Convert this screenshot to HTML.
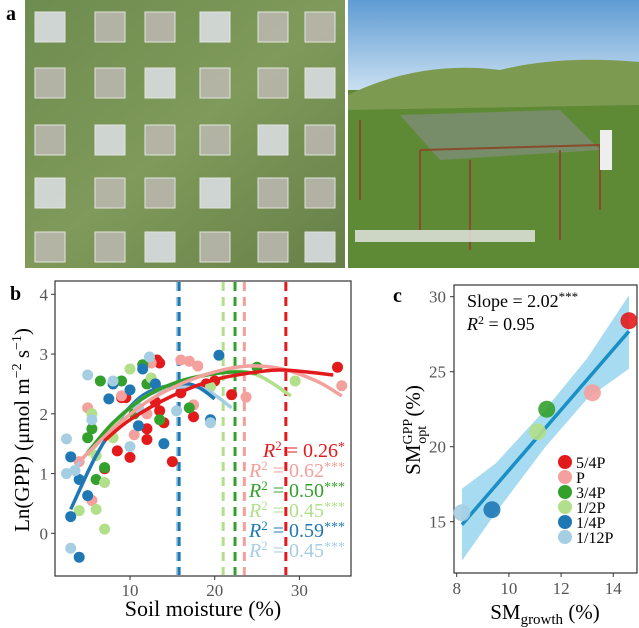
<!DOCTYPE html>
<html><head><meta charset="utf-8"><style>
body{margin:0;width:639px;height:628px;background:#fff;overflow:hidden;font-family:"Liberation Serif",serif}
svg{position:absolute;left:0;top:0;font-family:"Liberation Serif",serif}
svg text{font-family:"Liberation Serif",serif}
</style></head><body>
<svg width="639" height="628" id="fig" font-family="Liberation Serif, serif">
<defs>
<linearGradient id="grass" x1="0" y1="0" x2="1" y2="1"><stop offset="0" stop-color="#6e8c4f"/><stop offset="0.5" stop-color="#7f9a5a"/><stop offset="1" stop-color="#667f48"/></linearGradient>
<linearGradient id="sky" x1="0" y1="0" x2="0" y2="1"><stop offset="0" stop-color="#5f9bd3"/><stop offset="1" stop-color="#c9dff0"/></linearGradient>
<linearGradient id="field" x1="0" y1="0" x2="0" y2="1"><stop offset="0" stop-color="#6c8f3c"/><stop offset="1" stop-color="#4f7a2c"/></linearGradient>
</defs>
<g>
<text x="6" y="20" font-size="20" font-weight="bold">a</text>
<rect x="25" y="0" width="320" height="268" fill="url(#grass)"/>
<g id="plots"></g>
<rect x="348" y="0" width="291" height="268" fill="url(#field)"/>
<rect x="348" y="0" width="291" height="90" fill="url(#sky)"/>
<path d="M348 95 Q420 60 500 70 Q560 55 639 62 L639 120 L348 120Z" fill="#7c9a50"/>
<path d="M348 110 L639 105 L639 268 L348 268Z" fill="#5f8a35"/>
<path d="M400 115 L560 110 L600 150 L440 160Z" fill="#8a8f94" opacity="0.55"/>
<g stroke="#8a4b2a" stroke-width="2"><line x1="420" y1="150" x2="420" y2="230"/><line x1="470" y1="160" x2="470" y2="250"/><line x1="560" y1="150" x2="560" y2="240"/><line x1="600" y1="145" x2="600" y2="210"/><line x1="360" y1="120" x2="360" y2="200"/><line x1="420" y1="150" x2="600" y2="145"/></g>
<rect x="355" y="230" width="180" height="12" fill="#e8e8e8" opacity="0.8"/>
<rect x="600" y="130" width="12" height="40" fill="#eee"/>
</g>
<g id="pb"></g>
<g id="pc"></g>
</svg>
<script>
const NS="http://www.w3.org/2000/svg";
function mk(p,t,a,txt){const e=document.createElementNS(NS,t);for(const k in a)e.setAttribute(k,a[k]);if(txt!==undefined)e.textContent=txt;p.appendChild(e);return e;}
// aerial plots
const pl=document.getElementById('plots');
[35,95,145,200,258,305].forEach((cx,i)=>[12,68,125,178,232].forEach((cy,j)=>{const r=mk(pl,'rect',{x:cx,y:cy,width:30,height:30,fill:(i+j)%3==0?'#d9dde0':'#b9b7ad',stroke:'#eee','stroke-width':1,opacity:0.9});

}));

// ===== panel b data =====
const seriesNames=["5/4P","P","3/4P","1/2P","1/4P","1/12P"];
const colors=["#e31a1c","#f4a09c","#33a02c","#b2df8a","#1f78b4","#a6cee3"];
const bPoints=[
[[34.5,2.78],[22,2.32],[19,2.5],[17.5,1.95],[15,1.2],[14,1.85],[13.5,2.05],[13.2,2.9],[13.5,2.85],[12,1.75],[12,1.57],[10,1.27],[9.5,2.27],[9,2.27],[8.5,1.38],[7,1.08],[13,2.2],[16,2.35],[20,2.55]],
[[35,2.47],[23.7,2.28],[17.5,2.15],[16,2.9],[17,2.88],[18,2.8],[12.5,2.85],[10.5,1.65],[5.5,0.55],[5,2.1],[4,1.2],[12,2.0],[9,2.3]],
[[25,2.78],[17,2.1],[11.5,2.82],[12,2.5],[9,2.55],[6.5,2.55],[6,0.9],[7,1.1],[5,1.6],[5.5,1.75],[13.5,1.9],[10.5,2.0]],
[[29.5,2.55],[19.5,2.45],[10,2.75],[8,1.6],[6,0.4],[7,0.07],[4,0.38],[7,0.85],[12.5,2.6],[6,1.3],[5.5,2.0]],
[[20.5,2.98],[19.5,1.9],[14,1.5],[11.5,2.75],[10,2.4],[8,2.5],[7.5,2.25],[5,0.63],[4,0.9],[3,1.28],[3,0.28],[4,-0.4],[11,1.8],[13,2.5]],
[[2.5,1.58],[2.5,1.0],[3,-0.25],[5,2.65],[5.5,1.9],[10,1.45],[8,2.55],[12.3,2.95],[19.5,1.85],[15.5,2.05],[11,2.1],[3.5,1.05]]];
const bCurves=[
[[7,1.55],[10,1.9],[15,2.3],[20,2.57],[25,2.7],[28.4,2.73],[34,2.65]],
[[4,1.2],[8,1.75],[12,2.2],[16,2.5],[20,2.7],[24,2.8],[28,2.75],[32,2.55],[35,2.3]],
[[5,1.35],[8,1.85],[12,2.3],[16,2.55],[20,2.67],[22.5,2.7],[25,2.68]],
[[5,1.3],[10,2.1],[15,2.5],[21,2.7],[25,2.65],[29,2.3]],
[[3,0.4],[6,1.3],[9,1.95],[12,2.35],[16,2.5],[18,2.45],[20,2.25]],
[[3,1.0],[8,1.85],[12,2.3],[16,2.45],[19,2.4],[22,2.1]]];
const bOptima=[28.4,23.5,22.4,21,15.8,15.6];
const bR2=["0.26","0.62","0.50","0.45","0.59","0.45"];
const bStars=["*","***","***","***","***","***"];
const bXTicks=[10,20,30];
const bYTicks=[0,1,2,3,4];
// ===== panel c data =====
const cX=[14.6,13.2,11.45,11.1,9.35,8.2];
const cY=[28.4,23.6,22.5,21.0,15.8,15.6];
const cFitX=[8.2,14.6];
const cFitY=[14.8,27.7];
const cBandX=[8.2,9.5,11.4,13,14.6];
const cBandLo=[12.4,15.6,20.0,23.2,25.2];
const cBandHi=[17.2,18.9,22.5,25.9,30.1];
const cXTicks=[8,10,12,14];
const cYTicks=[15,20,25,30];

// panel b
const pb=document.getElementById('pb');
const bx=v=>45.3+8.47*v, by=v=>533.3-59.75*v;
mk(pb,'text',{x:10,y:300,'font-size':20,'font-weight':'bold'},'b');
const bFrame=mk(pb,'rect',{x:55,y:281,width:296,height:295,fill:'none',stroke:'#333','stroke-width':1.2});


bXTicks.forEach(t=>{mk(pb,'line',{x1:bx(t),x2:bx(t),y1:576,y2:580,stroke:'#333'});
const e=mk(pb,'text',{x:bx(t),y:596,'font-size':17,fill:'#555','text-anchor':'middle'},t);

});
bYTicks.forEach(t=>{mk(pb,'line',{x1:51,x2:55,y1:by(t),y2:by(t),stroke:'#333'});
const e=mk(pb,'text',{x:48,y:by(t)+6,'font-size':17,fill:'#555','text-anchor':'end'},t);

});
const bxt=mk(pb,'text',{x:203,y:616,'font-size':22,'text-anchor':'middle'},'Soil moisture (%)');


const byt=mk(pb,'text',{transform:'translate(29,430) rotate(-90)','font-size':21,'text-anchor':'middle'});
byt.innerHTML='Ln(GPP) (μmol m<tspan dy="-8" font-size="14">−2</tspan><tspan dy="8"> s</tspan><tspan dy="-8" font-size="14">−1</tspan><tspan dy="8">)</tspan>';


[5,4,3,2,1,0].forEach(i=>{const l=mk(pb,'line',{x1:bx(bOptima[i]),x2:bx(bOptima[i]),y1:282,y2:575,stroke:colors[i],'stroke-width':3,'stroke-dasharray':'9,6'});

});
bPoints.forEach((s,i)=>s.forEach(p=>{const c=mk(pb,'circle',{cx:bx(p[0]),cy:by(p[1]),r:5.5,fill:colors[i]});

}));
function smooth(pts){let d='M'+pts[0][0]+' '+pts[0][1];for(let i=0;i<pts.length-1;i++){const p0=pts[Math.max(0,i-1)],p1=pts[i],p2=pts[i+1],p3=pts[Math.min(pts.length-1,i+2)];
d+=' C'+(p1[0]+(p2[0]-p0[0])/6)+' '+(p1[1]+(p2[1]-p0[1])/6)+' '+(p2[0]-(p3[0]-p1[0])/6)+' '+(p2[1]-(p3[1]-p1[1])/6)+' '+p2[0]+' '+p2[1];}return d;}
[5,4,3,2,1,0].forEach(i=>{const c=mk(pb,'path',{d:smooth(bCurves[i].map(p=>[bx(p[0]),by(p[1])])),fill:'none',stroke:colors[i],'stroke-width':3.5});

});
bR2.forEach((r,i)=>{const t=mk(pb,'text',{x:345,y:457+20*i,'font-size':20,fill:colors[i],'text-anchor':'end'});
t.innerHTML='<tspan font-style="italic">R</tspan><tspan dy="-7" font-size="13">2</tspan><tspan dy="7"> = '+r+'</tspan><tspan dy="-6" font-size="14">'+bStars[i]+'</tspan>';

});

// panel c
const pc=document.getElementById('pc');
const cx=v=>456.7+26.1*(v-8), cy=v=>296.7-15*(v-30);
mk(pc,'text',{x:393,y:302,'font-size':20,'font-weight':'bold'},'c');
const cFrame=mk(pc,'rect',{x:454,y:285,width:183,height:288,fill:'none',stroke:'#333','stroke-width':1.2});


cXTicks.forEach(t=>{mk(pc,'line',{x1:cx(t),x2:cx(t),y1:573,y2:577,stroke:'#333'});
const e=mk(pc,'text',{x:cx(t),y:594,'font-size':17,fill:'#555','text-anchor':'middle'},t);

});
cYTicks.forEach(t=>{mk(pc,'line',{x1:450,x2:454,y1:cy(t),y2:cy(t),stroke:'#333'});
const e=mk(pc,'text',{x:446,y:cy(t)+6,'font-size':17,fill:'#555','text-anchor':'end'},t);

});
const cxt=mk(pc,'text',{x:545,y:619,'font-size':21,'text-anchor':'middle'});
cxt.innerHTML='SM<tspan dy="5" font-size="15">growth</tspan><tspan dy="-5"> (%)</tspan>';


const cyt=mk(pc,'text',{transform:'translate(420,430) rotate(-90)','font-size':21,'text-anchor':'middle'});
cyt.innerHTML='SM<tspan dy="-8" font-size="14">GPP</tspan><tspan dx="-25" dy="14" font-size="14">opt</tspan><tspan dx="4" dy="-6"> (%)</tspan>';


let bd='M'+cBandX.map((x,i)=>cx(x)+' '+cy(cBandHi[i])).join(' L')+' L'+cBandX.slice().reverse().map((x,j)=>{const i=cBandX.length-1-j;return cx(x)+' '+cy(cBandLo[i]);}).join(' L')+'Z';
const band=mk(pc,'path',{d:bd,fill:'#6cc3e8',opacity:0.6});


const fl=mk(pc,'line',{x1:cx(cFitX[0]),y1:cy(cFitY[0]),x2:cx(cFitX[1]),y2:cy(cFitY[1]),stroke:'#1a8fc4','stroke-width':3.5});


cX.forEach((x,i)=>{const c=mk(pc,'circle',{cx:cx(x),cy:cy(cY[i]),r:8.5,fill:colors[i],opacity:0.9});

});
const st=mk(pc,'text',{x:467,y:307,'font-size':18});
st.innerHTML='Slope = 2.02<tspan dy="-6" font-size="13">***</tspan>';


const r2=mk(pc,'text',{x:467,y:330,'font-size':18});
r2.innerHTML='<tspan font-style="italic">R</tspan><tspan dy="-6" font-size="12">2</tspan><tspan dy="6"> = 0.95</tspan>';


seriesNames.forEach((n,i)=>{const g=mk(pc,'g',{});


mk(g,'circle',{cx:565,cy:462+15*i,r:7,fill:colors[i]});
mk(g,'text',{x:576,y:468+15*i,'font-size':16},n);});
</script>
</body></html>
